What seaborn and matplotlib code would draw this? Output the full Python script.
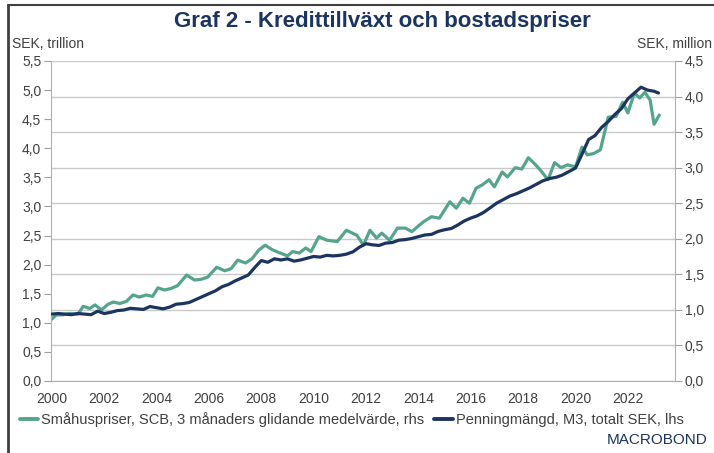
import matplotlib
matplotlib.use("Agg")
import matplotlib.pyplot as plt
import matplotlib.ticker as mticker
from matplotlib.lines import Line2D
import seaborn as sns
import pandas as pd

# ---- data ----
m3_years = [2000.0, 2000.25, 2000.5, 2000.75, 2001.0, 2001.25, 2001.5, 2001.75, 2002.0, 2002.25,
            2002.5, 2002.75, 2003.0, 2003.25, 2003.5, 2003.75, 2004.0, 2004.25, 2004.5, 2004.75,
            2005.0, 2005.25, 2005.5, 2005.75, 2006.0, 2006.25, 2006.5, 2006.75, 2007.0, 2007.25,
            2007.5, 2007.75, 2008.0, 2008.25, 2008.5, 2008.75, 2009.0, 2009.25, 2009.5, 2009.75,
            2010.0, 2010.25, 2010.5, 2010.75, 2011.0, 2011.25, 2011.5, 2011.75, 2012.0, 2012.25,
            2012.5, 2012.75, 2013.0, 2013.25, 2013.5, 2013.75, 2014.0, 2014.25, 2014.5, 2014.75,
            2015.0, 2015.25, 2015.5, 2015.75, 2016.0, 2016.25, 2016.5, 2016.75, 2017.0, 2017.25,
            2017.5, 2017.75, 2018.0, 2018.25, 2018.5, 2018.75, 2019.0, 2019.25, 2019.5, 2019.75,
            2020.0, 2020.25, 2020.5, 2020.75, 2021.0, 2021.25, 2021.5, 2021.75, 2022.0, 2022.25,
            2022.5, 2022.75, 2023.0, 2023.17]
m3_values = [1.15, 1.16, 1.15, 1.14, 1.16, 1.15, 1.14, 1.20, 1.16, 1.18,
             1.21, 1.22, 1.25, 1.24, 1.23, 1.28, 1.26, 1.24, 1.27, 1.32,
             1.33, 1.35, 1.40, 1.45, 1.50, 1.55, 1.62, 1.66, 1.72, 1.77,
             1.82, 1.95, 2.07, 2.04, 2.10, 2.08, 2.10, 2.06, 2.08, 2.11,
             2.14, 2.13, 2.16, 2.15, 2.16, 2.18, 2.22, 2.30, 2.36, 2.34,
             2.33, 2.37, 2.38, 2.42, 2.43, 2.45, 2.48, 2.51, 2.52, 2.57,
             2.60, 2.62, 2.68, 2.75, 2.80, 2.84, 2.90, 2.98, 3.06, 3.12,
             3.18, 3.22, 3.27, 3.32, 3.38, 3.44, 3.48, 3.50, 3.54, 3.60,
             3.66, 3.90, 4.15, 4.22, 4.36, 4.46, 4.58, 4.68, 4.85, 4.95,
             5.05, 5.00, 4.98, 4.95]

house_years = [2000.0, 2000.17, 2000.4, 2000.7, 2001.0, 2001.2, 2001.45, 2001.65, 2001.9, 2002.15,
               2002.35, 2002.6, 2002.85, 2003.1, 2003.35, 2003.6, 2003.85, 2004.05, 2004.3, 2004.55,
               2004.8, 2005.15, 2005.45, 2005.7, 2005.95, 2006.3, 2006.6, 2006.85, 2007.1, 2007.4,
               2007.65, 2007.9, 2008.15, 2008.4, 2008.65, 2009.0, 2009.2, 2009.45, 2009.7, 2009.9,
               2010.2, 2010.5, 2010.9, 2011.25, 2011.65, 2011.9, 2012.15, 2012.4, 2012.6, 2012.9,
               2013.2, 2013.5, 2013.75, 2014.0, 2014.2, 2014.5, 2014.8, 2015.2, 2015.45, 2015.7,
               2015.95, 2016.2, 2016.45, 2016.7, 2016.9, 2017.2, 2017.4, 2017.7, 2017.95, 2018.2,
               2018.45, 2018.65, 2018.95, 2019.2, 2019.45, 2019.7, 2020.0, 2020.25, 2020.45, 2020.7,
               2020.95, 2021.25, 2021.55, 2021.8, 2022.0, 2022.25, 2022.45, 2022.65, 2022.85, 2023.0,
               2023.2]
house_values = [0.87, 0.93, 0.93, 0.95, 0.94, 1.05, 1.02, 1.07, 1.00, 1.08,
                1.11, 1.09, 1.12, 1.21, 1.18, 1.21, 1.19, 1.31, 1.28, 1.30,
                1.34, 1.49, 1.42, 1.43, 1.46, 1.60, 1.55, 1.58, 1.70, 1.66,
                1.72, 1.84, 1.91, 1.85, 1.81, 1.76, 1.82, 1.80, 1.87, 1.82,
                2.03, 1.98, 1.96, 2.12, 2.05, 1.91, 2.12, 2.01, 2.08, 1.98,
                2.15, 2.15, 2.10, 2.18, 2.24, 2.31, 2.29, 2.52, 2.43, 2.57,
                2.50, 2.71, 2.76, 2.83, 2.73, 2.94, 2.87, 3.00, 2.98, 3.14,
                3.05, 2.97, 2.83, 3.07, 3.00, 3.04, 3.01, 3.29, 3.18, 3.20,
                3.25, 3.71, 3.72, 3.92, 3.77, 4.05, 3.98, 4.06, 3.95, 3.61,
                3.74]

x_ticks = [2000, 2002, 2004, 2006, 2008, 2010, 2012, 2014, 2016, 2018, 2020, 2022]
left_ticks = [0.0, 0.5, 1.0, 1.5, 2.0, 2.5, 3.0, 3.5, 4.0, 4.5, 5.0, 5.5]
right_ticks = [0.0, 0.5, 1.0, 1.5, 2.0, 2.5, 3.0, 3.5, 4.0, 4.5]

title = "Graf 2 - Kredittillväxt och bostadspriser"
house_label = "Småhuspriser, SCB, 3 månaders glidande medelvärde, rhs"
m3_label = "Penningmängd, M3, totalt SEK, lhs"

GREEN = "#55a58d"
NAVY = "#1c3560"
GRID = "#c9c9c9"
TXT = "#404040"

sns.set_style("white")
plt.rcParams["font.family"] = ["Liberation Sans", "DejaVu Sans"]

df_m3 = pd.DataFrame({"year": m3_years, "value": m3_values})
df_house = pd.DataFrame({"year": house_years, "value": house_values})

fig = plt.figure(figsize=(7.14, 4.53), dpi=100)
ax = fig.add_axes([51/714, 1-381/453, (675-51)/714, (381-61)/453])
ax2 = ax.twinx()

sns.lineplot(data=df_m3, x="year", y="value", ax=ax, color=NAVY, linewidth=2.3, zorder=3)
sns.lineplot(data=df_house, x="year", y="value", ax=ax2, color=GREEN, linewidth=2.3, zorder=2)

# left axis (navy) above right axis (green)
ax.set_zorder(ax2.get_zorder() + 1)
ax.patch.set_visible(False)

ax.set_xlim(1999.97, 2023.8)
ax.set_ylim(0, 5.5)
ax2.set_ylim(0, 4.5)
ax.set_yticks(left_ticks)
ax2.set_yticks(right_ticks)
ax.set_xticks(x_ticks)
fmt = mticker.FuncFormatter(lambda v, p: f"{v:.1f}".replace(".", ","))
ax.yaxis.set_major_formatter(fmt)
ax2.yaxis.set_major_formatter(fmt)
ax.xaxis.set_major_formatter(mticker.FuncFormatter(lambda v, p: f"{int(round(v))}"))

ax.set_xlabel("")
ax.set_ylabel("")
ax2.set_ylabel("")

# gridlines follow right axis ticks
ax2.yaxis.grid(True, color=GRID, linewidth=1.0)
ax.grid(False)
ax2.xaxis.grid(False)

for a in (ax, ax2):
    for s in a.spines.values():
        s.set_visible(False)
    a.tick_params(colors=TXT, labelsize=10, length=5, width=0.8, direction="out", color="#a0a0a0", pad=2)
ax.spines["left"].set_visible(True)
ax.spines["left"].set_color("#b0b0b0")
ax.spines["bottom"].set_visible(True)
ax.spines["bottom"].set_color("#b0b0b0")
ax2.spines["right"].set_visible(True)
ax2.spines["right"].set_color("#b0b0b0")
ax.tick_params(axis="x", pad=3)

fig.text(382/714, 1-21/453, title, ha="center", va="center", fontsize=16, fontweight="bold", color=NAVY)
fig.text(12/714, 1-44/453, "SEK, trillion", ha="left", va="center", fontsize=10, color=TXT)
fig.text(712/714, 1-44/453, "SEK, million", ha="right", va="center", fontsize=10, color=TXT)

handles = [Line2D([0], [0], color=GREEN, linewidth=2.8), Line2D([0], [0], color=NAVY, linewidth=2.8)]
fig.legend(handles, [house_label, m3_label], loc="center left", bbox_to_anchor=(20/714, 1-420/453),
           ncol=2, frameon=False, fontsize=10.5, handlelength=1.25, handletextpad=0.2, columnspacing=0.7,
           labelcolor=TXT, borderaxespad=0, borderpad=0)

fig.text(707/714, 1-440/453, "MACROBOND", ha="right", va="center", fontsize=11, color=NAVY)

# frame lines (left and top)
fig.add_artist(Line2D([8/714, 8/714], [0, 1-5/453], transform=fig.transFigure, color="#404040", linewidth=2))
fig.add_artist(Line2D([8/714, 1], [1-5/453, 1-5/453], transform=fig.transFigure, color="#404040", linewidth=1.5))

fig.savefig("out.png", dpi=100)
